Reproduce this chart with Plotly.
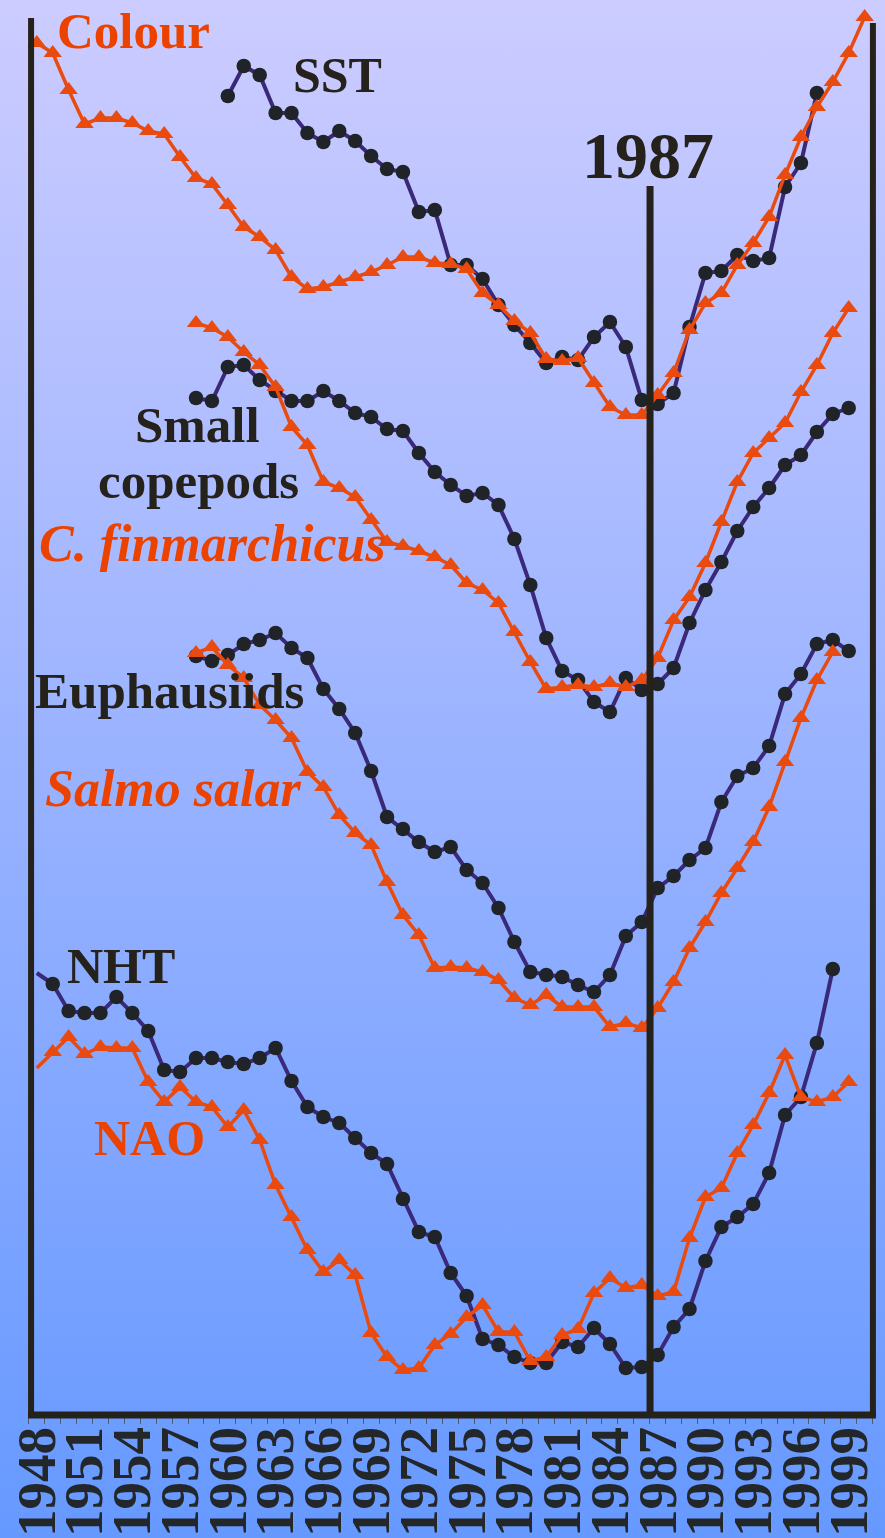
import base64
import plotly.graph_objects as go

# ---------------- data (relative index; axis reversed: larger = lower) ----------------
colour_years = list(range(1948, 2001))
colour = [43, 53, 90, 124, 118, 118, 123, 131, 134, 157,
          178, 184, 205, 227, 237, 250, 277, 289, 287, 282,
          277, 272, 265, 257, 257, 263, 264, 269, 293, 305,
          321, 333, 359, 361, 358, 383, 407, 415, 415, 395,
          373, 330, 303, 293, 265, 243, 217, 175, 137, 107,
          82, 53, 17]

sst_years = list(range(1960, 1998))
sst = [96, 66, 75, 113, 113, 133, 142, 131, 141, 156,
       169, 172, 212, 210, 265, 265, 279, 305, 325, 343,
       363, 357, 360, 337, 322, 347, 400, 404, 393, 327,
       273, 271, 255, 261, 258, 187, 163, 93]

copepod_years = list(range(1958, 2000))
small_copepods = [398, 401, 367, 365, 380, 391, 401, 401, 391, 401,
                  413, 417, 429, 431, 453, 472, 485, 496, 493, 505,
                  539, 585, 638, 671, 680, 702, 712, 678, 690, 684,
                  668, 623, 590, 562, 531, 507, 488, 465, 455, 432,
                  414, 408]

cfin_years = list(range(1958, 2000))
c_finmarchicus = [323, 328, 337, 352, 365, 387, 427, 445, 482, 488,
                  497, 520, 542, 546, 551, 557, 565, 583, 590, 603,
                  632, 662, 689, 687, 685, 687, 683, 687, 680, 658,
                  620, 597, 563, 522, 482, 453, 438, 423, 392, 365,
                  333, 308]

euph_years = list(range(1958, 2000))
euphausiids = [656, 661, 655, 644, 640, 633, 648, 658, 689, 709,
               733, 771, 817, 829, 842, 852, 847, 870, 883, 908,
               942, 972, 975, 977, 985, 992, 975, 936, 922, 888,
               876, 860, 848, 802, 776, 768, 746, 694, 674, 644,
               640, 651]

salmo_years = list(range(1958, 1999))
salmo_salar = [653, 647, 665, 678, 705, 720, 738, 772, 787, 815,
               833, 845, 882, 915, 935, 968, 967, 968, 972, 980,
               998, 1005, 995, 1007, 1007, 1007, 1027, 1023, 1028, 1008,
               982, 948, 922, 893, 868, 842, 807, 762, 718, 680,
               652]

nht_years = list(range(1948, 1999))
nht = [973, 984, 1011, 1013, 1013, 997, 1013, 1031, 1070, 1072,
       1058, 1058, 1062, 1064, 1058, 1048, 1081, 1107, 1117, 1123,
       1138, 1153, 1164, 1199, 1232, 1237, 1273, 1296, 1339, 1345,
       1357, 1363, 1363, 1342, 1347, 1328, 1344, 1368, 1367, 1355,
       1327, 1309, 1261, 1227, 1217, 1204, 1173, 1115, 1097, 1043,
       969]

nao_years = list(range(1948, 2000))
nao = [1068, 1052, 1037, 1054, 1047, 1048, 1048, 1082, 1102, 1087,
       1102, 1107, 1127, 1110, 1140, 1185, 1217, 1250, 1272, 1260,
       1275, 1333, 1357, 1370, 1368, 1345, 1334, 1317, 1305, 1332,
       1332, 1361, 1357, 1335, 1329, 1293, 1278, 1288, 1285, 1296,
       1292, 1238, 1197, 1188, 1153, 1125, 1093, 1055, 1097, 1102,
       1097, 1082]

tick_years = list(range(1948, 2000, 3))
tick_labels = [str(y) for y in tick_years]
regime_shift_year = 1986.52

# ---------------- layout constants ----------------
W, H = 885, 1538
PLOT_H = 1415
X0, X1 = 1945.688, 2001.279
Y_TOP, Y_BOT = 0, PLOT_H

DARK_LINE = "#3A2878"
DARK_MARK = "#202428"
ORANGE = "#E94A0F"
ORANGE_TXT = "#EC4200"
BLACK = "#25211B"
SERIF = "Liberation Serif"


def xp(year):
    return (year - X0) / (X1 - X0)


def yp(v):
    return (Y_BOT - v) / (Y_BOT - Y_TOP)


fig = go.Figure()


def add_series(xs, ys, kind, hide_first=False):
    base = 14.5 if kind == "dark" else 16
    sizes = [0 if (hide_first and i == 0) else base for i in range(len(ys))]
    if kind == "dark":
        fig.add_trace(go.Scatter(
            x=xs, y=ys, mode="lines+markers",
            line=dict(color=DARK_LINE, width=4),
            marker=dict(symbol="circle", size=sizes, color=DARK_MARK, opacity=1,
                        line=dict(width=0)),
            hoverinfo="skip", showlegend=False))
    else:
        fig.add_trace(go.Scatter(
            x=xs, y=ys, mode="lines+markers",
            line=dict(color=ORANGE, width=3.5),
            marker=dict(symbol="triangle-up", size=sizes, color=ORANGE, opacity=1,
                        line=dict(width=0)),
            hoverinfo="skip", showlegend=False))


add_series(sst_years, sst, "dark")
add_series(copepod_years, small_copepods, "dark")
add_series(euph_years, euphausiids, "dark")
add_series(nht_years, nht, "dark", hide_first=True)
add_series(colour_years, colour, "orange")
add_series(cfin_years, c_finmarchicus, "orange")
add_series(salmo_years, salmo_salar, "orange")
add_series(nao_years, nao, "orange", hide_first=True)

# background gradient
svg = (f'<svg xmlns="http://www.w3.org/2000/svg" width="{W}" height="{H}" preserveAspectRatio="none">'
       '<defs><linearGradient id="g" x1="0" y1="0" x2="0" y2="1">'
       '<stop offset="0" stop-color="#CCCCFF"/><stop offset="1" stop-color="#6699FF"/>'
       '</linearGradient></defs>'
       f'<rect width="{W}" height="{H}" fill="url(#g)"/></svg>')
src = "data:image/svg+xml;base64," + base64.b64encode(svg.encode()).decode()
fig.add_layout_image(dict(source=src, xref="paper", yref="paper", x=0, y=1,
                          sizex=1, sizey=H / PLOT_H, xanchor="left", yanchor="top",
                          sizing="stretch", layer="below"))

shapes = [
    dict(type="line", xref="paper", yref="paper", x0=xp(1947.64), x1=xp(1947.64),
         y0=yp(18), y1=yp(1415), line=dict(color=BLACK, width=6)),
    dict(type="line", xref="paper", yref="paper", x0=xp(2000.52), x1=xp(2000.52),
         y0=yp(23), y1=yp(1415), line=dict(color=BLACK, width=6)),
    dict(type="line", xref="paper", yref="paper", x0=xp(regime_shift_year), x1=xp(regime_shift_year),
         y0=yp(186), y1=yp(1415), line=dict(color=BLACK, width=7)),
    dict(type="line", xref="paper", yref="paper", x0=xp(1947.45), x1=xp(2000.71),
         y0=yp(1415), y1=yp(1415), line=dict(color=BLACK, width=7)),
]

ann = []


def label(text, x, y, color, size=50, anchor="left"):
    ann.append(dict(text=text, x=x, y=y, xref="x", yref="y", showarrow=False,
                    xanchor=anchor, yanchor="middle",
                    font=dict(family=SERIF, size=size, color=color)))


label("<b>Colour</b>", 1949.14, 31, ORANGE_TXT, size=51)
label("<b>SST</b>", 1963.97, 75, BLACK)
label("<b>1987</b>", 1986.42, 155, BLACK, size=66, anchor="center")
label("<b>Small</b>", 1958.09, 425, BLACK, size=51, anchor="center")
label("<b>copepods</b>", 1958.13, 481, BLACK, size=51, anchor="center")
label("<b><i>C. finmarchicus</i></b>", 1948.01, 543, ORANGE_TXT, size=52)
label("<b>Euphausiids</b>", 1947.76, 691, BLACK, size=51)
label("<b><i>Salmo salar</i></b>", 1948.39, 788, ORANGE_TXT, size=52)
label("<b>NHT</b>", 1949.77, 966, BLACK)
label("<b>NAO</b>", 1951.47, 1138, ORANGE_TXT)

fig.update_layout(
    width=W, height=H,
    margin=dict(l=0, r=0, t=0, b=H - PLOT_H, pad=0),
    paper_bgcolor="#6699FF", plot_bgcolor="rgba(0,0,0,0)",
    showlegend=False,
    shapes=shapes, annotations=ann,
    xaxis=dict(range=[X0, X1], showgrid=False, zeroline=False, showline=False,
               tickmode="array", tickvals=tick_years, ticktext=tick_labels,
               tickangle=-90, ticks="",
               tickfont=dict(family=SERIF, size=55, color="#24272A", weight="bold"),
               minor=dict(ticks="outside", tickmode="array",
                          tickvals=[y + 0.5 for y in range(1947, 2001)],
                          ticklen=8, tickwidth=1, tickcolor="#55596A", showgrid=False)),
    yaxis=dict(range=[Y_BOT, Y_TOP], visible=False, showgrid=False, zeroline=False),
)

fig.write_html("out.html")
